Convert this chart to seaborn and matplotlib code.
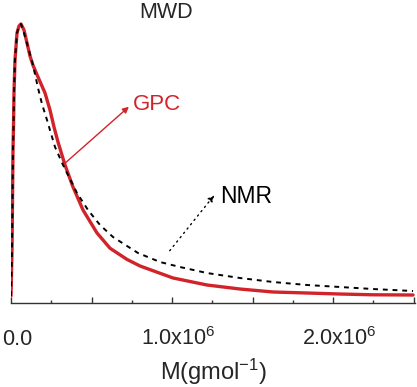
import numpy as np
import pandas as pd
import seaborn as sns
import matplotlib
matplotlib.use("Agg")
import matplotlib.pyplot as plt
import matplotlib.transforms as mtransforms
from matplotlib.ticker import FixedLocator

# molecular weight distribution (M in 1e6 g/mol, normalized height)
gpc_m = [0, 0.0062, 0.0093, 0.0124, 0.0155, 0.0186, 0.0248, 0.0373, 0.0497, 0.0621, 0.0807,
         0.0994, 0.118, 0.1366, 0.1677, 0.2112, 0.2422, 0.2671, 0.2919, 0.3354, 0.3851, 0.4472,
         0.5342, 0.6149, 0.7205, 0.8012, 1.0062, 1.2174, 1.4224, 1.6273, 1.8385, 2.0435,
         2.2484, 2.4969]
gpc_w = [0, 0.1685, 0.3516, 0.5348, 0.619, 0.7436, 0.8645, 0.9634, 0.989, 0.9963, 0.9744,
         0.9267, 0.8791, 0.845, 0.8022, 0.7436, 0.6813, 0.619, 0.5641, 0.4799, 0.3993, 0.315,
         0.2308, 0.175, 0.134, 0.110, 0.066, 0.0403, 0.0256, 0.0147, 0.011, 0.0073,
         0.0045, 0.0037]

nmr_m = [0, 0.0062, 0.0093, 0.0124, 0.0155, 0.0186, 0.0248, 0.0373, 0.0497, 0.0621, 0.0807,
         0.1056, 0.1366, 0.1677, 0.1925, 0.2236, 0.2733, 0.323, 0.4099, 0.4783, 0.5528, 0.6335,
         0.7205, 0.7888, 0.9255, 1.0497, 1.2174, 1.4224, 1.6273, 1.8385, 2.0435, 2.2484, 2.4969]
nmr_w = [0, 0.1685, 0.3516, 0.5348, 0.619, 0.7436, 0.8645, 0.9634, 0.989, 0.9963, 0.9634,
         0.9121, 0.8462, 0.7619, 0.7033, 0.6447, 0.5458, 0.4799, 0.3773, 0.315, 0.2601, 0.2161,
         0.1832, 0.1575, 0.1245, 0.1062, 0.0842, 0.0659, 0.0513, 0.0403, 0.033, 0.0256, 0.0183]

tick_pos = [0, 0.5e6, 1.0e6, 1.5e6, 2.0e6, 2.5e6]
tick_txt = ["0.0", "", r"1.0x10$^{6}$", "", r"2.0x10$^{6}$", ""]
minor_pos = [0.25e6, 0.75e6, 1.25e6, 1.75e6, 2.25e6]

df_gpc = pd.DataFrame({"M": np.array(gpc_m) * 1e6, "w": gpc_w})
df_nmr = pd.DataFrame({"M": np.array(nmr_m) * 1e6, "w": nmr_w})

sns.set_style("white")
plt.rcParams["font.family"] = ["Liberation Sans", "DejaVu Sans"]
plt.rcParams["mathtext.fontset"] = "custom"
plt.rcParams["mathtext.rm"] = "Liberation Sans"
plt.rcParams["mathtext.it"] = "Liberation Sans"
plt.rcParams["mathtext.default"] = "regular"

red = "#d2232a"
fig = plt.figure(figsize=(4.17, 3.87), dpi=100)
ax = fig.add_axes([11 / 417, 84 / 387, 404 / 417, 293 / 387])

sns.lineplot(data=df_gpc, x="M", y="w", color=red, lw=2.4, sort=False, ax=ax)
sns.lineplot(data=df_nmr, x="M", y="w", color="black", lw=1.4, sort=False, ax=ax,
             linestyle=(0, (2.5, 2.5)))

ax.set_xlim(0, 2.509e6)
ax.set_ylim(-0.0256, 1.0476)
for s in ["left", "top", "right"]:
    ax.spines[s].set_visible(False)
ax.spines["bottom"].set_color("#333333")
ax.spines["bottom"].set_linewidth(1.0)
ax.set_yticks([])
ax.set_ylabel("")

ax.xaxis.set_major_locator(FixedLocator(tick_pos))
ax.set_xticklabels(tick_txt)
ax.xaxis.set_minor_locator(FixedLocator(minor_pos))
ax.tick_params(axis="x", which="major", direction="in", length=4.5, width=1, color="#333333",
               labelsize=15.5, pad=30, bottom=True)
ax.tick_params(axis="x", which="minor", direction="in", length=2.5, width=1, color="#333333",
               bottom=True)
shift = mtransforms.ScaledTranslation(6 / 100, 0, fig.dpi_scale_trans)
for lab in ax.get_xticklabels():
    lab.set_verticalalignment("baseline")
    lab.set_transform(lab.get_transform() + shift)
ax.set_xlabel(r"M(gmol$^{-1}$)", fontsize=17, labelpad=5)

# annotations
ax.annotate("", xy=(0.745e6, 0.70), xytext=(0.323e6, 0.48),
            arrowprops=dict(arrowstyle="-|>", color=red, lw=1.0, mutation_scale=9))
ax.text(0.758e6, 0.70, "GPC", color=red, fontsize=16, ha="left", va="center")
ax.annotate("", xy=(1.273e6, 0.377), xytext=(0.975e6, 0.158),
            arrowprops=dict(arrowstyle="-|>", color="black", lw=1.0, linestyle=(0, (1, 3)),
                            mutation_scale=9))
ax.text(1.298e6, 0.363, "NMR", color="black", fontsize=16.5, ha="left", va="center")
fig.text(166 / 417, 1 - 12 / 387, "MWD", fontsize=15.5, ha="center", va="center")

fig.savefig("out.png", dpi=100)
